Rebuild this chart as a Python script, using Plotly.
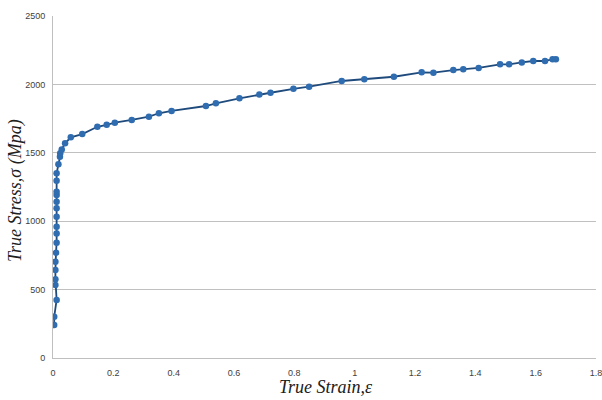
import plotly.graph_objects as go

strain = [0.004, 0.004, 0.012, 0.008, 0.008, 0.008, 0.008, 0.010, 0.012, 0.012,
          0.012, 0.012, 0.012, 0.012, 0.012, 0.012, 0.012, 0.012, 0.018, 0.023,
          0.024, 0.029, 0.040, 0.059, 0.097, 0.147, 0.178, 0.205, 0.261, 0.318,
          0.351, 0.393, 0.507, 0.540, 0.618, 0.684, 0.721, 0.797, 0.849, 0.957,
          1.032, 1.130, 1.222, 1.261, 1.327, 1.360, 1.411, 1.482, 1.512, 1.554,
          1.592, 1.631, 1.656, 1.667]
stress = [241, 302, 424, 533, 575, 643, 704, 770, 843, 911,
          960, 1033, 1094, 1143, 1191, 1216, 1296, 1350, 1416, 1471,
          1496, 1525, 1569, 1613, 1637, 1690, 1705, 1720, 1740, 1764,
          1789, 1806, 1842, 1862, 1898, 1927, 1939, 1968, 1983, 2025,
          2037, 2056, 2088, 2086, 2105, 2110, 2120, 2147, 2147, 2161,
          2171, 2171, 2184, 2184]

x_ticks = [0, 0.2, 0.4, 0.6, 0.8, 1, 1.2, 1.4, 1.6, 1.8]
y_ticks = [0, 500, 1000, 1500, 2000, 2500]
x_title = "True Strain,ε"
y_title = "True Stress,σ (Mpa)"

fig = go.Figure()
fig.add_trace(go.Scatter(
    x=strain, y=stress, mode="lines+markers",
    line=dict(color="#1f4a7c", width=1.8),
    marker=dict(color="#2f6db0", size=6.5, line=dict(width=0)),
    showlegend=False,
))

tickfont = dict(family="Liberation Sans, Arial, sans-serif", size=9, color="#404040")
titlefont = dict(family="Liberation Serif, serif", size=18, color="#202020")

fig.update_layout(
    width=602, height=400,
    margin=dict(l=53, r=6, t=16, b=42),
    paper_bgcolor="white", plot_bgcolor="white",
    xaxis=dict(
        range=[0, 1.8], tickvals=x_ticks, ticktext=[str(v) for v in x_ticks],
        showgrid=False, zeroline=False, showline=True, linecolor="#bfbfbf", linewidth=1,
        ticks="outside", ticklen=6, tickcolor="white", tickfont=tickfont,
        ticklabeloverflow="allow", automargin=False,
    ),
    yaxis=dict(
        range=[0, 2500], tickvals=y_ticks, ticktext=[str(v) for v in y_ticks],
        showgrid=True, gridcolor="#c0c0c0", gridwidth=1,
        zeroline=False, showline=True, linecolor="#bfbfbf", linewidth=1,
        ticks="outside", ticklen=5, tickcolor="white", tickfont=tickfont,
        ticklabeloverflow="allow", automargin=False,
    ),
    annotations=[
        dict(text="<i>" + x_title + "</i>", xref="paper", yref="paper",
             x=0.503, y=-0.0848, xanchor="center", yanchor="middle",
             showarrow=False, font=titlefont),
        dict(text="<i>" + y_title + "</i>", xref="paper", yref="paper",
             x=-0.070, y=0.491, xanchor="center", yanchor="middle",
             textangle=-90, showarrow=False, font=titlefont),
    ],
)

fig.write_html("out.html")
